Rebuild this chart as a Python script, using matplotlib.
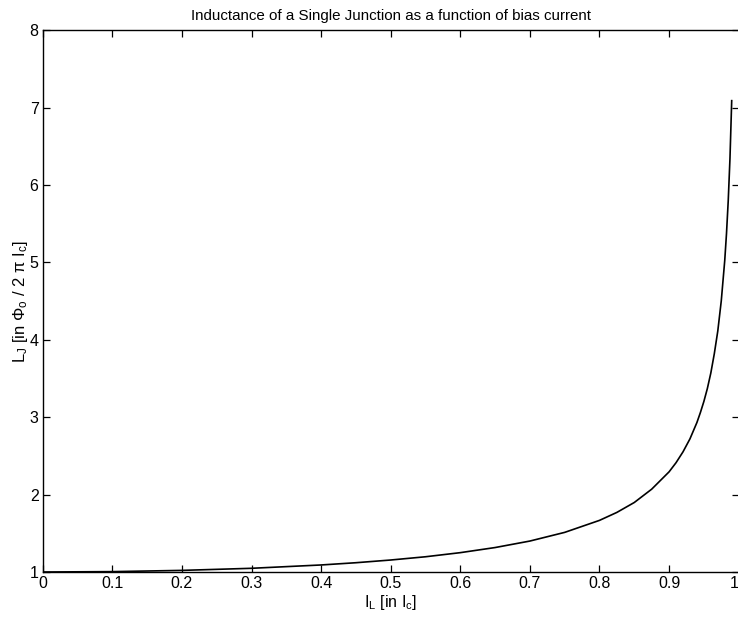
import matplotlib
matplotlib.use('Agg')
import matplotlib.pyplot as plt

# --- DATA: bias current (in Ic) vs junction inductance (in Phi0 / 2 pi Ic) ---
bias_current = [0.0, 0.1, 0.2, 0.3, 0.4, 0.45, 0.5, 0.55, 0.6, 0.65, 0.7, 0.75,
                0.8, 0.825, 0.85, 0.875, 0.9, 0.91, 0.92, 0.93, 0.94, 0.945,
                0.95, 0.955, 0.96, 0.965, 0.97, 0.975, 0.98, 0.9825, 0.985,
                0.9875, 0.99]
inductance = [1.0, 1.005, 1.021, 1.048, 1.091, 1.12, 1.155, 1.197, 1.25, 1.316,
              1.40, 1.512, 1.667, 1.77, 1.898, 2.07, 2.294, 2.412, 2.552, 2.72,
              2.931, 3.06, 3.203, 3.37, 3.571, 3.82, 4.113, 4.502, 5.025, 5.37,
              5.795, 6.34, 7.089]

x_ticks = [0, 0.1, 0.2, 0.3, 0.4, 0.5, 0.6, 0.7, 0.8, 0.9, 1]
x_tick_labels = ['0', '0.1', '0.2', '0.3', '0.4', '0.5', '0.6', '0.7', '0.8', '0.9', '1']
y_ticks = [1, 2, 3, 4, 5, 6, 7, 8]

plt.rcParams['font.family'] = ['Liberation Sans', 'DejaVu Sans']
plt.rcParams['mathtext.fontset'] = 'custom'
plt.rcParams['mathtext.rm'] = 'Liberation Sans'
plt.rcParams['mathtext.it'] = 'Liberation Sans'

fig = plt.figure(figsize=(7.38, 6.2), dpi=100)
ax = fig.add_axes([0.0579, 0.0774, 0.943, 0.874])

ax.plot(bias_current, inductance, color='black', linewidth=1.2)

ax.set_xlim(0, 1)
ax.set_ylim(1, 8)
ax.set_xticks(x_ticks)
ax.set_xticklabels(x_tick_labels)
ax.set_yticks(y_ticks)
ax.tick_params(direction='in', length=5, width=0.9, top=True, right=True,
               labelsize=11.5, pad=3)
# last x label sits on the right border, keep it inside the figure
ax.get_xticklabels()[-1].set_horizontalalignment('right')
for side in ax.spines.values():
    side.set_linewidth(1.0)

ax.set_title('Inductance of a Single Junction as a function of bias current',
             fontsize=10.9, pad=7)
ax.set_xlabel(r'$\mathregular{I_L}$ [in $\mathregular{I_c}$]', fontsize=11.5, labelpad=1)
ax.set_ylabel(r'$\mathregular{L_J}$ [in $\mathregular{\Phi_o}$ / 2 $\mathregular{\pi}$ $\mathregular{I_c}$]',
              fontsize=12, labelpad=0)

fig.savefig('out.png', dpi=100)
